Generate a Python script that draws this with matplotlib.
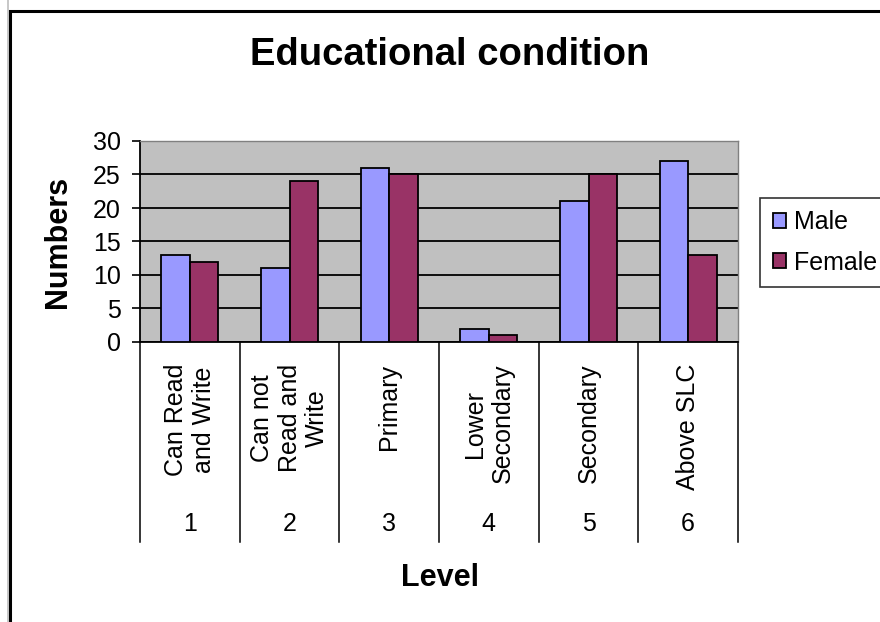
import matplotlib
matplotlib.use("Agg")
import matplotlib.pyplot as plt
import numpy as np
from matplotlib.patches import Rectangle
from matplotlib.transforms import blended_transform_factory

plt.rcParams['font.family'] = ['Liberation Sans', 'DejaVu Sans']

levels = ["1", "2", "3", "4", "5", "6"]
level_names = ["Can Read\nand Write", "Can not\nRead and\nWrite", "Primary",
               "Lower\nSecondary", "Secondary", "Above SLC"]
male = [13, 11, 26, 2, 21, 27]
female = [12, 24, 25, 1, 25, 13]
y_ticks = [0, 5, 10, 15, 20, 25, 30]

W, H = 880, 622
fig = plt.figure(figsize=(W / 100, H / 100), dpi=100)
fig.patch.set_facecolor("white")

# chart frame (open to the right and bottom)
fig.add_artist(Rectangle((7 / W, -0.1), 0.002, 1.2, transform=fig.transFigure,
                         facecolor="#c8c8c8", edgecolor="none"))
fig.add_artist(Rectangle((9.5 / W, -0.1), 1.2, 1 - 11 / H + 0.1,
                         transform=fig.transFigure, facecolor="none",
                         edgecolor="black", linewidth=2.2))

left, right, top, bottom = 140, 738, 141, 342
ax = fig.add_axes([left / W, 1 - bottom / H, (right - left) / W, (bottom - top) / H])
ax.set_facecolor("#c0c0c0")

x = np.arange(len(levels))
bw = 1 / 3.5
ax.bar(x - bw / 2, male, bw, color="#9999ff", edgecolor="black", linewidth=1.3,
       label="Male", zorder=3)
ax.bar(x + bw / 2, female, bw, color="#993366", edgecolor="black", linewidth=1.3,
       label="Female", zorder=3)

ax.set_xlim(-0.5, len(levels) - 0.5)
ax.set_ylim(0, 30)
ax.set_yticks(y_ticks)
ax.yaxis.grid(True, color="black", linewidth=1.3, zorder=1)
ax.set_axisbelow(True)
ax.tick_params(axis="y", direction="out", length=5.8, width=1.2, labelsize=18, pad=8)
ax.set_xticks([])

for side in ("top", "right"):
    ax.spines[side].set_color("#808080")
    ax.spines[side].set_linewidth(1)
ax.spines["left"].set_linewidth(1.3)
ax.spines["bottom"].set_linewidth(1.3)

# two-level category axis beneath the plot
tr = blended_transform_factory(ax.transData, ax.transAxes)
ph = bottom - top
for b in np.arange(-0.5, len(levels), 1.0):
    ax.plot([b, b], [0, -(542 - bottom) / ph], transform=tr, color="black",
            linewidth=1.1, clip_on=False)
for i, (num, name) in enumerate(zip(levels, level_names)):
    ax.text(i, -(364 - bottom) / ph, name, transform=tr, rotation=90,
            ha="center", va="top", multialignment="center", fontsize=18,
            linespacing=1.2)
    ax.text(i, -(524 - bottom) / ph, num, transform=tr, ha="center",
            va="center", fontsize=18)

ax.set_ylabel("Numbers", fontsize=22, fontweight="bold", va="center")
ax.yaxis.set_label_coords((58 - left) / (right - left), 0.5)
fig.text(440 / W, 1 - 578 / H, "Level", fontsize=22, fontweight="bold",
         ha="center", va="center")
fig.text(450 / W, 1 - 55 / H, "Educational condition", fontsize=27.5,
         fontweight="bold", ha="center", va="center")

# legend box runs off the right edge of the chart
leg = fig.legend(loc="upper left", bbox_to_anchor=(760 / W, 1 - 198 / H, 0.2, 0),
                 mode="expand", fontsize=18, frameon=True, fancybox=False,
                 borderpad=0.5, handlelength=0.55, handleheight=0.55,
                 handletextpad=0.3, labelspacing=0.65, borderaxespad=0)
leg.get_frame().set_edgecolor("black")
leg.get_frame().set_linewidth(1.2)

fig.savefig("out.png", dpi=100, facecolor="white")
